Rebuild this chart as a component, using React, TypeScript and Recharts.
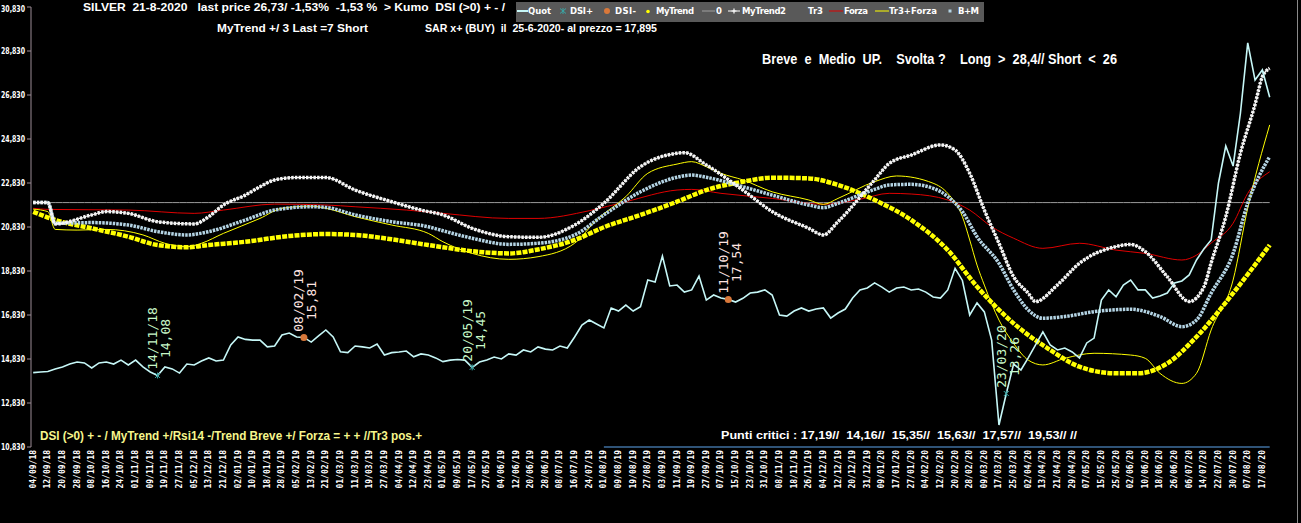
import React from "react";
import { ComposedChart, Line, XAxis, YAxis, ReferenceLine } from "recharts";

// one label every two data points (k = 2 * label index)
const dateLabels = [
  "04/09/18", "12/09/18", "20/09/18", "28/09/18", "08/10/18", "16/10/18", "24/10/18", "01/11/18",
  "09/11/18", "19/11/18", "27/11/18", "05/12/18", "13/12/18", "21/12/18", "02/01/19", "10/01/19",
  "18/01/19", "28/01/19", "05/02/19", "13/02/19", "21/02/19", "01/03/19", "11/03/19", "19/03/19",
  "27/03/19", "04/04/19", "12/04/19", "23/04/19", "01/05/19", "09/05/19", "17/05/19", "27/05/19",
  "04/06/19", "12/06/19", "20/06/19", "28/06/19", "08/07/19", "16/07/19", "24/07/19", "01/08/19",
  "09/08/19", "19/08/19", "27/08/19", "03/09/19", "11/09/19", "19/09/19", "27/09/19", "07/10/19",
  "15/10/19", "23/10/19", "31/10/19", "08/11/19", "18/11/19", "26/11/19", "04/12/19", "12/12/19",
  "20/12/19", "31/12/19", "09/01/20", "17/01/20", "27/01/20", "04/02/20", "12/02/20", "20/02/20",
  "28/02/20", "09/03/20", "17/03/20", "25/03/20", "02/04/20", "13/04/20", "21/04/20", "29/04/20",
  "07/05/20", "15/05/20", "25/05/20", "02/06/20", "10/06/20", "18/06/20", "26/06/20", "06/07/20",
  "14/07/20", "22/07/20", "30/07/20", "07/08/20", "17/08/20",
];

const quot = [
  14.21, 14.24, 14.26, 14.38, 14.47, 14.6, 14.69, 14.65, 14.42, 14.65,
  14.69, 14.6, 14.78, 14.56, 14.78, 14.47, 14.24, 14.08, 14.47, 14.38,
  14.19, 14.6, 14.56, 14.74, 14.88, 14.74, 14.78, 15.47, 15.83, 15.72,
  15.69, 15.69, 15.38, 15.42, 15.92, 16.01, 15.83, 15.81, 15.6, 15.88,
  16.15, 15.83, 15.16, 15.12, 15.42, 15.38, 15.33, 15.51, 15.01, 15.12,
  15.15, 15.19, 14.93, 15.06, 15.01, 14.88, 14.71, 14.78, 14.81, 14.78,
  14.45, 14.69, 14.78, 14.92, 14.83, 15.06, 15.01, 15.24, 15.15, 15.38,
  15.28, 15.24, 15.42, 15.33, 15.83, 16.37, 16.6, 16.42, 16.24, 17.15,
  17.01, 17.28, 17.01, 17.21, 18.42, 18.33, 19.51, 18.15, 18.19, 17.87,
  17.97, 18.6, 17.51, 17.74, 17.6, 17.54, 17.42, 17.59, 17.83, 17.87,
  17.97, 17.74, 16.83, 16.78, 17.01, 17.15, 17.01, 17.1, 17.15, 16.69,
  16.92, 17.1, 17.6, 17.97, 18.06, 18.29, 18.1, 17.87, 18.06, 18.1,
  17.97, 18.01, 17.87, 17.65, 17.6, 17.97, 18.95, 18.4, 16.83, 17.38,
  16.97, 15.69, 11.83, 13.26, 14.6, 14.33, 14.88, 15.47, 16.06, 15.47,
  15.24, 15.33, 15.15, 14.88, 15.56, 15.78, 17.51, 17.97, 17.66, 18.19,
  18.42, 17.97, 17.97, 17.6, 17.69, 17.83, 18.29, 18.38, 18.65, 19.33,
  19.83, 20.24, 22.83, 24.51, 23.6, 26.0, 29.2, 27.51, 27.97, 26.73,
];

const zeroLevel = 21.94;

// [data index, value]
const forza: [number, number][] = [
  [0, 21.68], [2, 21.63], [13, 21.6], [22, 21.45], [26, 21.6], [33, 21.87], [40, 21.83],
  [44, 21.75], [51, 21.6], [56, 21.45], [65, 21.22], [69, 21.22], [76, 21.57], [81, 21.98],
  [88, 22.51], [90, 22.54], [94, 22.36], [101, 22.13], [108, 21.86], [113, 22.09], [117, 22.36],
  [120, 22.33], [125, 22.06], [128, 21.6], [131, 20.84], [134, 20.32], [138, 19.86], [143, 20.09],
  [148, 19.78], [152, 19.63], [157, 19.33], [159, 19.55], [161, 20.1], [164, 21.0], [166, 22.36],
  [169, 23.34],
];

const myTrend: [number, number][] = [
  [0, 21.52], [3, 21.15], [8, 20.77], [13, 20.39], [17, 20.01], [21, 19.91], [24, 20.01],
  [29, 20.16], [35, 20.42], [40, 20.51], [44, 20.47], [49, 20.27], [54, 20.01], [56, 19.91],
  [60, 19.73], [65, 19.63], [69, 19.81], [74, 20.24], [78, 20.82], [83, 21.38], [88, 21.98],
  [92, 22.51], [97, 22.89], [101, 23.07], [106, 23.04], [110, 22.74], [115, 22.06], [120, 21.15],
  [125, 19.78], [129, 18.12], [134, 16.45], [139, 15.24], [143, 14.48], [148, 14.18], [151, 14.18],
  [155, 14.63], [159, 15.84], [164, 17.82], [169, 20.01],
];

const myTrend2: [number, number][] = [
  [0, 21.94], [2, 21.94], [3, 20.97], [8, 21.38], [10, 21.53], [13, 21.45], [17, 21.07],
  [22, 20.97], [24, 21.3], [26, 21.83], [29, 22.28], [31, 22.66], [33, 22.97], [36, 23.08],
  [40, 23.08], [44, 22.51], [49, 21.98], [53, 21.6], [56, 21.38], [60, 20.77], [65, 20.39],
  [69, 20.36], [74, 20.92], [78, 21.91], [83, 23.57], [88, 24.18], [89, 24.21], [92, 23.65],
  [97, 22.51], [101, 21.53], [106, 20.77], [108, 20.47], [110, 21.07], [115, 22.97], [117, 23.72],
  [120, 24.1], [124, 24.56], [126, 24.33], [128, 23.27], [130, 21.6], [132, 20.09], [134, 18.57],
  [136, 17.82], [137, 17.44], [140, 18.2], [143, 19.18], [148, 19.94], [150, 20.04], [152, 19.71],
  [155, 18.57], [158, 17.44], [160, 18.1], [161, 19.2], [163, 21.3], [165, 24.18], [167, 26.4],
  [168, 27.66], [169, 28.04],
];

const bPlusM: [number, number][] = [
  [0, 21.94], [2, 21.94], [3, 21.0], [8, 21.03], [13, 20.92], [17, 20.62], [21, 20.47],
  [24, 20.62], [29, 21.15], [33, 21.6], [38, 21.75], [40, 21.72], [44, 21.38], [49, 21.07],
  [54, 20.84], [56, 20.66], [60, 20.32], [65, 20.04], [69, 20.09], [74, 20.47], [78, 21.38],
  [83, 22.43], [88, 23.09], [90, 23.19], [92, 23.09], [97, 22.66], [101, 22.28], [106, 21.83],
  [108, 21.71], [110, 21.91], [115, 22.54], [117, 22.74], [120, 22.77], [123, 22.59], [125, 22.21],
  [127, 21.53], [129, 20.39], [132, 19.18], [134, 17.97], [136, 17.06], [138, 16.68], [141, 16.76],
  [145, 16.98], [150, 17.09], [154, 16.76], [157, 16.3], [159, 16.6], [161, 17.82], [164, 19.63],
  [166, 21.91], [169, 24.03],
];

const tr3Forza: [number, number][] = [
  [0, 21.64], [2, 21.53], [3, 20.72], [6, 20.69], [10, 20.72], [15, 20.47], [18, 20.09],
  [21, 19.93], [23, 20.09], [26, 20.54], [31, 21.22], [34, 21.68], [38, 21.78], [40, 21.68],
  [44, 21.3], [49, 20.92], [54, 20.54], [56, 20.16], [60, 19.63], [65, 19.36], [69, 19.48],
  [74, 20.09], [77, 21.15], [81, 22.21], [84, 23.27], [88, 23.69], [90, 23.8], [92, 23.57],
  [94, 23.27], [97, 22.97], [101, 22.43], [106, 22.06], [108, 21.86], [110, 22.13], [115, 22.89],
  [118, 23.15], [123, 22.82], [125, 22.36], [127, 21.3], [128, 20.24], [129, 19.1], [130, 18.19],
  [132, 16.6], [134, 15.54], [136, 14.78], [138, 14.56], [141, 14.86], [145, 15.09], [150, 15.01],
  [152, 14.86], [154, 14.18], [157, 13.72], [159, 14.18], [161, 16.15], [164, 18.42], [166, 21.69],
  [169, 25.47],
];

const dsiPlusIdx = [17, 60, 133];
const dsiPlusDate = ["14/11/18", "20/05/19", "23/03/20"];
const dsiPlusVal = ["14,08", "14,45", "13,26"];
const dsiMinusIdx = [37, 95];
const dsiMinusDate = ["08/02/19", "11/10/19"];
const dsiMinusVal = ["15,81", "17,54"];

const bottomBand = [78, 169];

const yTicks = [10.83, 12.83, 14.83, 16.83, 18.83, 20.83, 22.83, 24.83, 26.83, 28.83, 30.83];
const xTicks = dateLabels.map((_, i) => i * 2);

const rows: any[] = quot.map((q, k) => ({ k, quot: q, zero: zeroLevel }));
const put = (key: string, pts: [number, number][]) => pts.forEach(([k, v]) => (rows[k][key] = v));
put("forza", forza);
put("myTrend", myTrend);
put("myTrend2", myTrend2);
put("bm", bPlusM);
put("tr3f", tr3Forza);
dsiPlusIdx.forEach((k, i) => {
  rows[k].dsiP = quot[k];
  rows[k].dsiPi = i;
});
dsiMinusIdx.forEach((k, i) => {
  rows[k].dsiM = quot[k];
  rows[k].dsiMi = i;
});

const fmtY = (v: number) => v.toFixed(3).replace(".", ",");

function XTick(props: any) {
  const { x, y, payload } = props;
  const label = dateLabels[Math.round(payload.value / 2)];
  return (
    <text
      x={x}
      y={y}
      transform={`rotate(-90 ${x} ${y})`}
      textAnchor="end"
      dominantBaseline="central"
      fill="#fff"
      fontSize={8}
      fontWeight="bold"
      fontFamily="DejaVu Sans Mono"
    >
      {label}
    </text>
  );
}

function YTick(props: any) {
  const { x, y, payload } = props;
  return (
    <text
      x={x}
      y={y}
      textAnchor="end"
      dominantBaseline="central"
      fill="#fff"
      fontSize={8}
      fontWeight="bold"
      fontFamily="DejaVu Sans"
      textLength={24}
      lengthAdjust="spacingAndGlyphs"
    >
      {fmtY(payload.value)}
    </text>
  );
}

function rotLabel(x: number, y: number, text: string, color: string) {
  return (
    <text
      x={x}
      y={y}
      transform={`rotate(-90 ${x} ${y})`}
      textAnchor="middle"
      dominantBaseline="central"
      fill={color}
      fontSize={13}
      fontFamily="DejaVu Sans Mono"
    >
      {text}
    </text>
  );
}

const dsiPlusDot = (p: any) => {
  const { cx, cy, payload, index } = p;
  if (cx == null || cy == null || payload.dsiP == null) return <g key={`p${index}`} />;
  const i = payload.dsiPi;
  return (
    <g key={`p${index}`}>
      <path d={`M${cx - 2.5},${cy - 2.5}L${cx + 2.5},${cy + 2.5}M${cx - 2.5},${cy + 2.5}L${cx + 2.5},${cy - 2.5}M${cx},${cy - 3}L${cx},${cy + 3}`} stroke="#3aa6a6" strokeWidth={1} />
      {rotLabel(cx - 5, cy - 37, dsiPlusDate[i], "#c8f8c8")}
      {rotLabel(cx + 8, cy - 37, dsiPlusVal[i], "#c8f8c8")}
    </g>
  );
};

const dsiMinusDot = (p: any) => {
  const { cx, cy, payload, index } = p;
  if (cx == null || cy == null || payload.dsiM == null) return <g key={`m${index}`} />;
  const i = payload.dsiMi;
  return (
    <g key={`m${index}`}>
      <circle cx={cx} cy={cy} r={3.5} fill="#d9783a" />
      {rotLabel(cx - 5, cy - 37, dsiMinusDate[i], "#ffe4e0")}
      {rotLabel(cx + 8, cy - 37, dsiMinusVal[i], "#ffe4e0")}
    </g>
  );
};

const sans = "Liberation Sans, Arial, sans-serif";

function Overlay() {
  const lg = { fill: "#fff", fontSize: 8.5, fontWeight: "bold" as const, fontFamily: "DejaVu Sans" };
  const hd = { fill: "#fff", fontFamily: sans, fontWeight: "bold" as const, xmlSpace: "preserve", lengthAdjust: "spacingAndGlyphs" };
  return (
    <svg width={1301} height={523} style={{ position: "absolute", left: 0, top: 0, pointerEvents: "none" }}>
      <text x={83} y={10.5} fontSize={10.5} textLength={422} {...hd}>
        {"SILVER  21-8-2020   last price 26,73/ -1,53%  -1,53 %  > Kumo  DSI (>0) + - /"}
      </text>
      <text x={217} y={32} fontSize={10.5} textLength={151} {...hd}>
        {"MyTrend +/ 3 Last =7 Short"}
      </text>
      <text x={425} y={32} fontSize={10} textLength={232} {...hd}>
        {"SAR x+ (BUY)  il  25-6-2020- al prezzo = 17,895"}
      </text>
      <text x={762} y={64} fontSize={14} textLength={355} {...hd}>
        {"Breve  e  Medio  UP.    Svolta ?    Long  >  28,4// Short  <  26"}
      </text>
      <text x={721} y={439} fontSize={11.5} textLength={356} {...hd}>
        {"Punti critici : 17,19//  14,16//  15,35//  15,63//  17,57//  19,53// //"}
      </text>
      <text x={40} y={440} fontSize={12} textLength={382} {...hd} fill="#f6f68c" fontFamily="Liberation Sans Narrow, Liberation Sans">
        {"DSI (>0) + - / MyTrend +/Rsi14 -/Trend Breve +/ Forza = + + //Tr3 pos.+"}
      </text>

      <rect x={516} y={2} width={468} height={20} fill="#595959" />
      <line x1={517} x2={528} y1={11} y2={11} stroke="#c6f7f7" strokeWidth={2} />
      <text x={528} y={14} {...lg} textLength={23}>Quot</text>
      <path d="M560,8.5L566,13.5M560,13.5L566,8.5M563,8L563,14" stroke="#3aa6a6" strokeWidth={1} />
      <text x={570} y={14} {...lg} textLength={23}>DSI+</text>
      <circle cx={607} cy={11} r={3} fill="#d9783a" />
      <text x={615} y={14} {...lg} textLength={21}>DSI-</text>
      <circle cx={648} cy={11.5} r={1.8} fill="#ffff00" />
      <text x={656} y={14} {...lg} textLength={38}>MyTrend</text>
      <line x1={702} x2={715} y1={11} y2={11} stroke="#a0a0a0" strokeWidth={1} />
      <text x={716} y={14} {...lg}>0</text>
      <line x1={728} x2={740} y1={11} y2={11} stroke="#fff" strokeWidth={1} />
      <path d="M734,8.5L734,13.5M731.5,11L736.5,11" stroke="#fff" strokeWidth={1.2} />
      <text x={742} y={14} {...lg} textLength={44}>MyTrend2</text>
      <text x={808} y={14} {...lg} textLength={15}>Tr3</text>
      <line x1={829} x2={843} y1={11} y2={11} stroke="#e00000" strokeWidth={1} />
      <text x={844} y={14} {...lg} textLength={24}>Forza</text>
      <line x1={875} x2={889} y1={11} y2={11} stroke="#ffff00" strokeWidth={1} />
      <text x={889} y={14} {...lg} textLength={48}>Tr3+Forza</text>
      <rect x={948.5} y={9.5} width={3} height={3} fill="#b4d4e4" />
      <text x={958} y={14} {...lg} textLength={21}>B+M</text>

      <line x1={1297.5} x2={1297.5} y1={0} y2={523} stroke="#8a8a8a" strokeWidth={1} />
    </svg>
  );
}

export default function App() {
  return (
    <div style={{ position: "absolute", left: 0, top: 0, width: 1301, height: 523, background: "#000", overflow: "hidden" }}>
      <ComposedChart width={1301} height={523} data={rows} margin={{ top: 7, right: 24, bottom: 0, left: 0 }}>
        <XAxis
          type="number"
          dataKey="k"
          domain={[-0.3, 170]}
          ticks={xTicks}
          interval={0}
          tick={(p: any) => <XTick {...p} />}
          axisLine={false}
          tickLine={false}
          tickSize={0}
          tickMargin={3}
          height={76}
          allowDataOverflow
        />
        <YAxis
          domain={[10.83, 30.83]}
          ticks={yTicks}
          width={31}
          tick={(p: any) => <YTick {...p} />}
          axisLine={{ stroke: "#9c8c96" }}
          tickLine={{ stroke: "#9c8c96" }}
          tickSize={4}
          tickMargin={2}
          allowDataOverflow
        />
        <ReferenceLine
          segment={[{ x: bottomBand[0], y: 10.83 }, { x: bottomBand[1], y: 10.83 }]}
          stroke="#3f6f9f"
          strokeWidth={1.5}
          ifOverflow="visible"
        />
        <Line dataKey="zero" stroke="#9a9a9a" strokeWidth={1} dot={false} isAnimationActive={false} />
        <Line type="monotone" dataKey="forza" stroke="#e00000" strokeWidth={1} dot={false} connectNulls isAnimationActive={false} />
        <Line type="monotone" dataKey="tr3f" stroke="#ffff00" strokeWidth={1} dot={false} connectNulls isAnimationActive={false} />
        <Line type="monotone" dataKey="myTrend" stroke="#ffff00" strokeWidth={4.5} strokeDasharray="5 1.2" dot={false} connectNulls isAnimationActive={false} />
        <Line type="monotone" dataKey="bm" stroke="#b4d4e4" strokeWidth={3.5} strokeDasharray="2.5 1" dot={false} connectNulls isAnimationActive={false} />
        <Line type="monotone" dataKey="myTrend2" stroke="#ffffff" strokeWidth={1} dot={false} connectNulls isAnimationActive={false} />
        <Line type="monotone" dataKey="myTrend2" stroke="#f4f4f4" strokeWidth={3.5} strokeDasharray="2.5 1.2" dot={false} connectNulls isAnimationActive={false} />
        <Line type="linear" dataKey="quot" stroke="#c6f7f7" strokeWidth={1.6} dot={false} isAnimationActive={false} />
        <Line dataKey="dsiP" stroke="none" dot={dsiPlusDot} activeDot={false} isAnimationActive={false} />
        <Line dataKey="dsiM" stroke="none" dot={dsiMinusDot} activeDot={false} isAnimationActive={false} />
      </ComposedChart>
      <Overlay />
    </div>
  );
}
